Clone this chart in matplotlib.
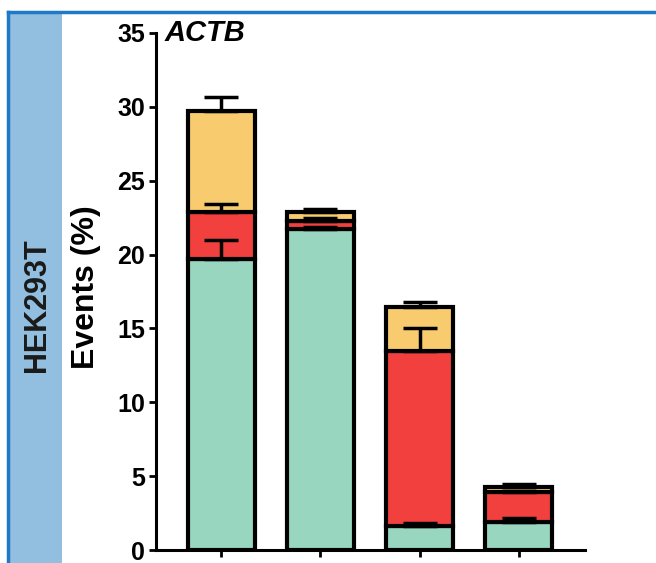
import matplotlib.pyplot as plt
from matplotlib.patches import Rectangle
from matplotlib.lines import Line2D

plt.rcParams['font.family'] = ['Liberation Sans', 'DejaVu Sans']

# stacked segments (cumulative tops, %) and upper error bar ends
teal_top = [19.7, 21.7, 1.6, 1.9]
red_top = [22.9, 22.3, 13.5, 3.9]
yellow_top = [29.7, 22.9, 16.45, 4.25]
teal_err = [21.0, 21.9, 1.8, 2.2]
red_err = [23.4, 22.5, 15.0, 4.0]
yellow_err = [30.7, 23.1, 16.8, 4.45]
yticks = [0, 5, 10, 15, 20, 25, 30, 35]

teal = '#98D6BF'
red = '#F2403E'
yellow = '#F8CC6E'

W, H = 656, 563
fig = plt.figure(figsize=(W / 100, H / 100), dpi=100)

# panel frame and side strip
fig.patches.append(Rectangle((10 / W, 0), 52 / W, 1 - 13 / H, transform=fig.transFigure,
                             facecolor='#92BEE0', edgecolor='none', zorder=0))
fig.lines.append(Line2D([8 / W, 1], [1 - 12 / H, 1 - 12 / H], transform=fig.transFigure,
                        color='#1F78C8', lw=2.5))
fig.lines.append(Line2D([8 / W, 8 / W], [0, 1 - 12 / H], transform=fig.transFigure,
                        color='#1F78C8', lw=2.5))
fig.text(37 / W, 1 - 305 / H, 'HEK293T', rotation=90, ha='center', va='center',
         fontsize=22, fontweight='bold', color='#1a1a1a')

ax = fig.add_axes([156 / W, 13 / H, (585 - 156) / W, (550 - 33) / H])
x = list(range(len(teal_top)))
bw = 0.675
ax.set_xlim(-0.655, 3.665)
ax.set_ylim(0, 35)

lw = 3
red_h = [r - t for r, t in zip(red_top, teal_top)]
yel_h = [y - r for y, r in zip(yellow_top, red_top)]
ax.bar(x, teal_top, bw, color=teal, edgecolor='black', lw=lw, zorder=2)
ax.bar(x, red_h, bw, bottom=teal_top, color=red, edgecolor='black', lw=lw, zorder=2)
ax.bar(x, yel_h, bw, bottom=red_top, color=yellow, edgecolor='black', lw=lw, zorder=2)

for tops, errs in [(teal_top, teal_err), (red_top, red_err), (yellow_top, yellow_err)]:
    ax.errorbar(x, tops, yerr=[[0] * 4, [e - t for e, t in zip(errs, tops)]], fmt='none',
                ecolor='black', elinewidth=2.5, capsize=12, capthick=2.5, zorder=3)

for s in ['top', 'right']:
    ax.spines[s].set_visible(False)
for s in ['left', 'bottom']:
    ax.spines[s].set_linewidth(2.2)
ax.set_xticks(x)
ax.set_xticklabels([])
ax.set_yticks(yticks)
ax.set_yticklabels([str(v) for v in yticks], fontsize=18, fontweight='bold')
ax.tick_params(axis='both', length=5, width=2, pad=3)

fig.text(86 / W, 1 - 287 / H, 'Events (%)', rotation=90, ha='center', va='center',
         fontsize=23, fontweight='bold')
fig.text(165 / W, 1 - 33 / H, 'ACTB', ha='left', va='center', fontsize=21,
         fontweight='bold', fontstyle='italic')

fig.savefig('out.png', dpi=100)
